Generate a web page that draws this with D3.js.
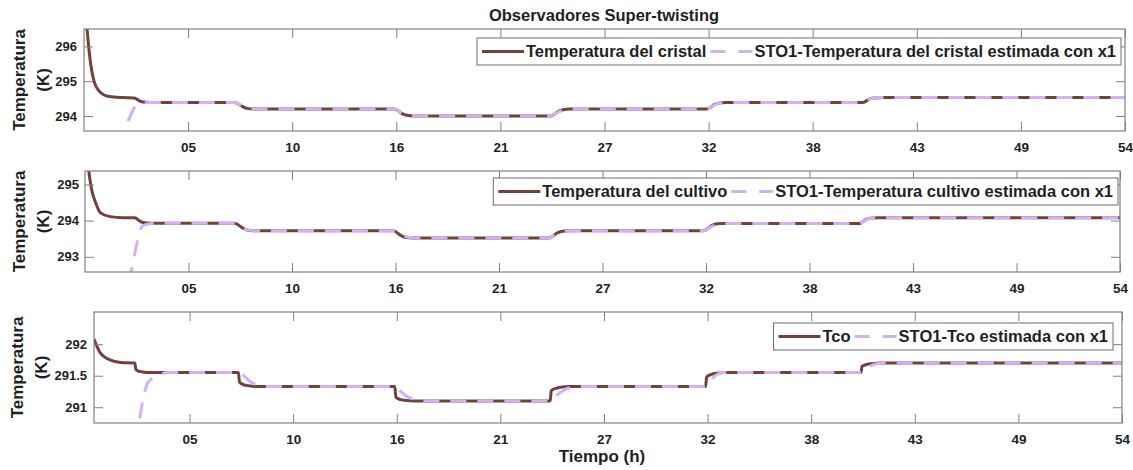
<!DOCTYPE html>
<html><head><meta charset="utf-8">
<script src="https://cdn.jsdelivr.net/npm/d3@7"></script>
<style>
body{margin:0;background:#fff}
svg{display:block}
text{font-family:"Liberation Sans",Arial,sans-serif;font-weight:bold;fill:#1f1f1f}
</style>
</head><body>
<svg id="chart" width="1133" height="470"></svg>
<script>
// ---------- data ----------
const chartTitle = "Observadores Super-twisting";
const xAxisLabel = "Tiempo (h)";
const yAxisLabel = ["Temperatura", "(K)"];
const xTickValues = [5.4, 10.8, 16.2, 21.6, 27, 32.4, 37.8, 43.2, 48.6, 54];
const xTickLabels = ["05", "10", "16", "21", "27", "32", "38", "43", "49", "54"];

// panel 1
const p1Legend = ["Temperatura del cristal", "STO1-Temperatura del cristal estimada con x1"];
const p1YTicks = [294, 295, 296];
const p1Time = [0, 0.16, 0.3, 0.52, 0.78, 1.3, 2.0, 2.6, 2.75, 2.9, 3.1, 3.4, 7.8, 8.0, 8.2, 8.45, 8.8, 16.1, 16.3, 16.5, 16.75, 17.1, 24.2, 24.4, 24.6, 24.85, 25.2, 32.3, 32.5, 32.7, 32.95, 33.3, 40.4, 40.6, 40.8, 41.05, 41.4, 54];
const p1Cristal = [298.0, 296.5, 295.7, 295.0, 294.72, 294.56, 294.53, 294.52, 294.48, 294.43, 294.4, 294.39, 294.39, 294.35, 294.28, 294.22, 294.2, 294.2, 294.15, 294.07, 294.02, 294.0, 294.0, 294.05, 294.13, 294.18, 294.2, 294.2, 294.25, 294.33, 294.37, 294.39, 294.39, 294.44, 294.5, 294.52, 294.53, 294.53];
const p1EstTime = [1.95, 2.13, 2.4, 2.7, 3.0, 3.4, 7.8, 8.05, 8.3, 8.6, 9.0, 16.1, 16.35, 16.6, 16.9, 17.3, 24.2, 24.45, 24.7, 25.0, 25.4, 32.3, 32.55, 32.8, 33.1, 33.5, 40.4, 40.65, 40.9, 41.2, 41.6, 54];
const p1EstCristal = [293.1, 293.57, 294.0, 294.3, 294.37, 294.39, 294.39, 294.34, 294.26, 294.21, 294.2, 294.2, 294.13, 294.06, 294.02, 294.0, 294.0, 294.07, 294.14, 294.18, 294.2, 294.2, 294.27, 294.34, 294.38, 294.39, 294.39, 294.46, 294.51, 294.53, 294.53, 294.53];

// panel 2
const p2Legend = ["Temperatura del cultivo", "STO1-Temperatura cultivo estimada con x1"];
const p2YTicks = [293, 294, 295];
const p2Time = [0, 0.2, 0.35, 0.55, 0.8, 1.3, 2.0, 2.6, 2.75, 2.9, 3.1, 3.4, 7.8, 8.0, 8.2, 8.45, 8.8, 16.1, 16.3, 16.5, 16.75, 17.1, 24.2, 24.4, 24.6, 24.85, 25.2, 32.3, 32.5, 32.7, 32.95, 33.3, 40.4, 40.6, 40.8, 41.05, 41.4, 54];
const p2Cultivo = [296.8, 295.37, 294.85, 294.5, 294.22, 294.11, 294.08, 294.08, 294.03, 293.97, 293.94, 293.93, 293.93, 293.88, 293.8, 293.74, 293.72, 293.72, 293.66, 293.58, 293.53, 293.52, 293.52, 293.57, 293.65, 293.7, 293.72, 293.72, 293.78, 293.86, 293.91, 293.92, 293.92, 293.98, 294.04, 294.07, 294.08, 294.08];
const p2EstTime = [2.2, 2.4, 2.7, 3.0, 3.35, 3.75, 7.8, 8.05, 8.3, 8.6, 9.0, 16.1, 16.35, 16.6, 16.9, 17.3, 24.2, 24.45, 24.7, 25.0, 25.4, 32.3, 32.55, 32.8, 33.1, 33.5, 40.4, 40.65, 40.9, 41.2, 41.6, 54];
const p2EstCultivo = [292.3, 292.58, 293.35, 293.85, 293.91, 293.93, 293.93, 293.87, 293.78, 293.73, 293.72, 293.72, 293.65, 293.58, 293.54, 293.52, 293.52, 293.59, 293.66, 293.7, 293.72, 293.72, 293.79, 293.86, 293.9, 293.92, 293.92, 293.99, 294.05, 294.08, 294.08, 294.08];

// panel 3
const p3Legend = ["Tco", "STO1-Tco estimada con x1"];
const p3YTicks = [291, 291.5, 292];
const p3Time = [0.42, 0.55, 0.73, 1.0, 1.25, 1.8, 2.55, 2.6, 2.75, 2.95, 3.3, 7.95, 8.0, 8.2, 8.5, 8.9, 16.1, 16.15, 16.4, 16.7, 17.1, 24.2, 24.25, 24.5, 24.8, 25.2, 32.3, 32.35, 32.6, 32.9, 33.3, 40.4, 40.45, 40.7, 41.0, 41.4, 54];
const p3Tco = [292.08, 291.98, 291.87, 291.79, 291.75, 291.71, 291.7, 291.6, 291.57, 291.56, 291.55, 291.55, 291.4, 291.36, 291.34, 291.33, 291.33, 291.16, 291.12, 291.105, 291.1, 291.1, 291.26, 291.3, 291.32, 291.33, 291.33, 291.48, 291.52, 291.54, 291.55, 291.55, 291.65, 291.68, 291.69, 291.7, 291.7];
const p3EstTime = [2.6, 2.77, 2.9, 3.25, 3.86, 4.3, 8.0, 8.3, 8.6, 9.0, 9.4, 16.1, 16.4, 16.8, 17.3, 17.8, 24.2, 24.5, 24.9, 25.4, 25.9, 32.3, 32.5, 32.8, 33.2, 33.6, 40.4, 40.7, 41.1, 41.6, 54];
const p3EstTco = [290.4, 290.75, 291.0, 291.4, 291.52, 291.55, 291.55, 291.48, 291.4, 291.35, 291.33, 291.33, 291.25, 291.16, 291.11, 291.1, 291.1, 291.18, 291.27, 291.32, 291.33, 291.33, 291.4, 291.5, 291.55, 291.55, 291.55, 291.62, 291.68, 291.7, 291.7];

// ---------- drawing ----------
const COL_MAIN = "#74403e";
const COL_EST = "#d0b2f6";
const COL_AXIS = "#808080";
const FONT = "Liberation Sans, Arial, sans-serif";
const svg = d3.select("#chart");

const panels = [
  {box:{left:84,right:1125,top:29,bottom:131}, xDom:[0,54], yDom:[293.57,296.5], yPad:7, yLabX:[19,43],
   yTicks:p1YTicks, main:[p1Time,p1Cristal], est:[p1EstTime,p1EstCristal], legend:p1Legend, legRight:1121, legTop:38},
  {box:{left:85,right:1120,top:171,bottom:272}, xDom:[0,54], yDom:[292.58,295.37], yPad:6, yLabX:[19,43],
   yTicks:p2YTicks, main:[p2Time,p2Cultivo], est:[p2EstTime,p2EstCultivo], legend:p2Legend, legRight:1118, legTop:178},
  {box:{left:94,right:1122,top:312,bottom:423}, xDom:[0.42,54], yDom:[290.75,292.51], yPad:7, yLabX:[17,41],
   yTicks:p3YTicks, main:[p3Time,p3Tco], est:[p3EstTime,p3EstTco], legend:p3Legend, legRight:1113, legTop:323}
];

panels.forEach((p, i) => {
  const b = p.box;
  const x = d3.scaleLinear().domain(p.xDom).range([b.left, b.right]);
  const y = d3.scaleLinear().domain(p.yDom).range([b.bottom, b.top]);
  const g = svg.append("g");

  const clipId = "clip" + i;
  svg.append("clipPath").attr("id", clipId).append("rect")
    .attr("x", b.left).attr("y", b.top).attr("width", b.right - b.left).attr("height", b.bottom - b.top);

  const line = d3.line().x(d => x(d[0])).y(d => y(d[1])).curve(d3.curveMonotoneX);
  const mainPts = p.main[0].map((t, k) => [t, p.main[1][k]]);
  const estPts = p.est[0].map((t, k) => [t, p.est[1][k]]);

  const plot = g.append("g").attr("clip-path", `url(#${clipId})`);
  plot.append("path").attr("d", line(mainPts)).attr("fill", "none")
    .attr("stroke", COL_MAIN).attr("stroke-width", 3);
  plot.append("path").attr("d", line(estPts)).attr("fill", "none")
    .attr("stroke", COL_EST).attr("stroke-width", 3).attr("stroke-dasharray", "16,11");

  // axes
  const ax = (sel) => { sel.select(".domain").remove(); sel.selectAll("line").attr("stroke", COL_AXIS); };
  g.append("g").attr("transform", `translate(0,${b.bottom})`)
    .call(d3.axisBottom(x).tickValues(xTickValues).tickFormat((d, k) => xTickLabels[k]).tickSizeInner(-9).tickSizeOuter(0).tickPadding(11))
    .call(ax)
    .selectAll("text").attr("font-size", 13.5).attr("font-family", FONT).attr("font-weight", "bold").attr("fill", "#262626");
  g.append("g").attr("transform", `translate(0,${b.top})`)
    .call(d3.axisTop(x).tickValues(xTickValues).tickFormat("").tickSizeInner(-9).tickSizeOuter(0))
    .call(ax);
  g.append("g").attr("transform", `translate(${b.left},0)`)
    .call(d3.axisLeft(y).tickValues(p.yTicks).tickFormat(d3.format("~g")).tickSizeInner(-9).tickSizeOuter(0).tickPadding(p.yPad))
    .call(ax)
    .selectAll("text").attr("font-size", 13).attr("font-family", FONT).attr("font-weight", "bold").attr("fill", "#262626");
  g.append("g").attr("transform", `translate(${b.right},0)`)
    .call(d3.axisRight(y).tickValues(p.yTicks).tickFormat("").tickSizeInner(-9).tickSizeOuter(0))
    .call(ax);
  g.append("rect").attr("x", b.left).attr("y", b.top).attr("width", b.right - b.left).attr("height", b.bottom - b.top)
    .attr("fill", "none").attr("stroke", COL_AXIS).attr("stroke-width", 1.2);

  // y label
  const yc = (b.top + b.bottom) / 2;
  p.yLabX.forEach((xx, k) => {
    g.append("text").attr("transform", `translate(${xx},${yc}) rotate(-90)`)
      .attr("text-anchor", "middle").attr("dy", "0.36em").attr("font-size", 17).text(yAxisLabel[k]);
  });

  // legend
  const leg = g.append("g");
  const fs = 16.5, sample = 42, pad = 5, h = 27;
  const t1 = leg.append("text").attr("font-size", fs).text(p.legend[0]);
  const t2 = leg.append("text").attr("font-size", fs).text(p.legend[1]);
  const w1 = t1.node().getComputedTextLength();
  const w2 = t2.node().getComputedTextLength();
  const total = pad + sample + 2 + w1 + 4 + sample + 2 + w2 + pad;
  const lx = p.legRight - total, ly = p.legTop, my = ly + h / 2;
  leg.insert("rect", "text").attr("x", lx).attr("y", ly).attr("width", total).attr("height", h)
    .attr("fill", "#fff").attr("stroke", "#6e6e6e").attr("stroke-width", 1);
  let cx = lx + pad;
  leg.append("line").attr("x1", cx).attr("x2", cx + sample).attr("y1", my).attr("y2", my)
    .attr("stroke", COL_MAIN).attr("stroke-width", 3);
  cx += sample + 2;
  t1.attr("x", cx).attr("y", my).attr("dy", "0.36em");
  cx += w1 + 4;
  leg.append("line").attr("x1", cx).attr("x2", cx + sample).attr("y1", my).attr("y2", my)
    .attr("stroke", COL_EST).attr("stroke-width", 3).attr("stroke-dasharray", "15,13");
  cx += sample + 2;
  t2.attr("x", cx).attr("y", my).attr("dy", "0.36em");
});

svg.append("text").attr("x", 604).attr("y", 21).attr("text-anchor", "middle").attr("font-size", 16.5).text(chartTitle);
svg.append("text").attr("x", 602).attr("y", 462).attr("text-anchor", "middle").attr("font-size", 17).text(xAxisLabel);
</script>
</body></html>
